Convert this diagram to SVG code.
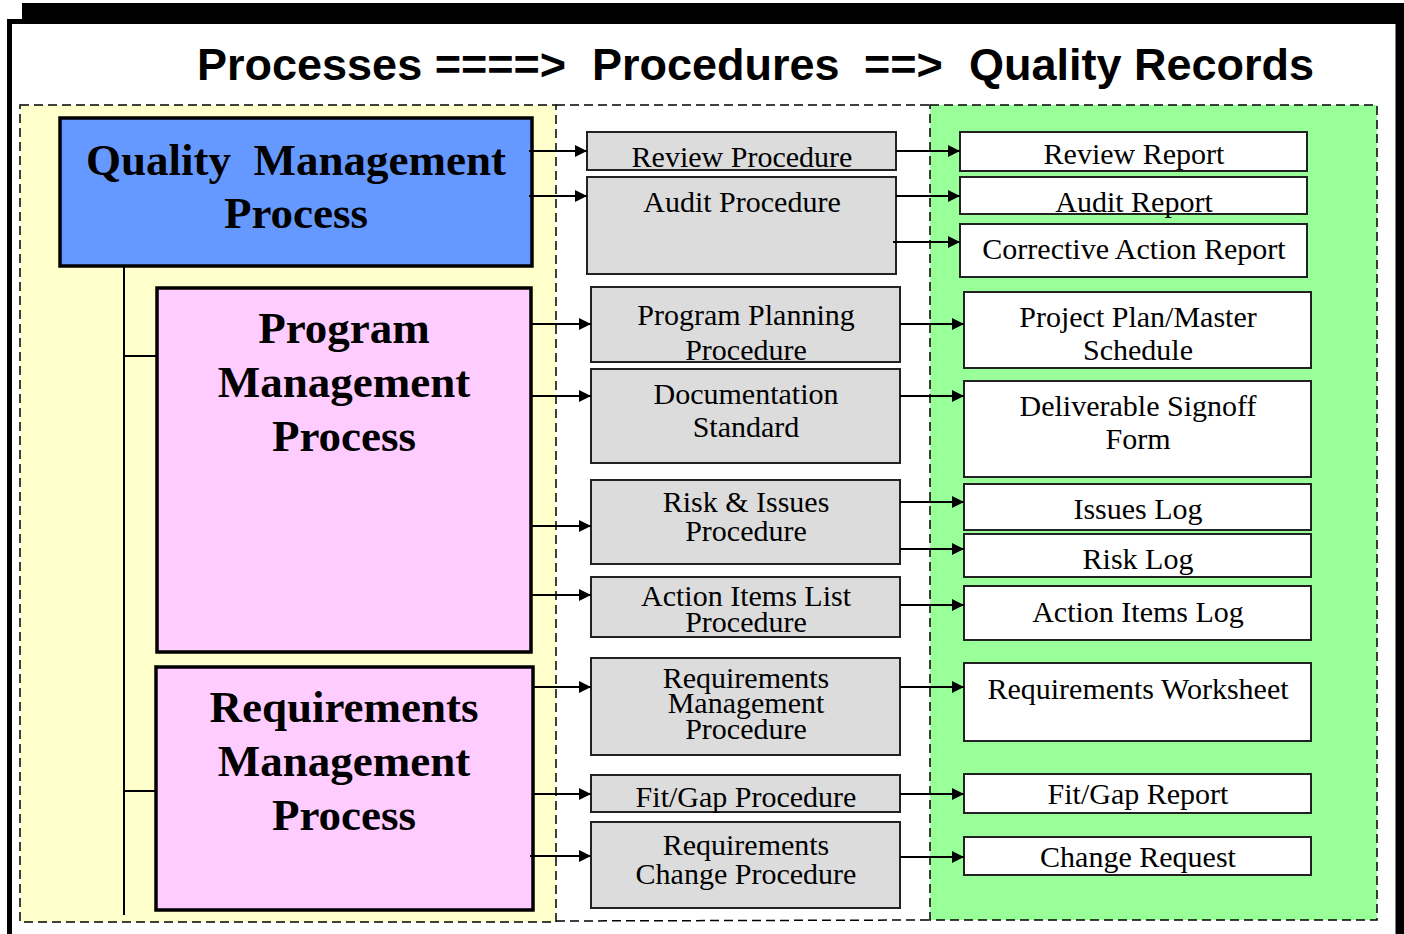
<svg xmlns="http://www.w3.org/2000/svg" width="1404" height="934" viewBox="0 0 1404 934">
  <defs>
    <marker id="arrow" markerUnits="userSpaceOnUse" markerWidth="13" markerHeight="12" refX="12" refY="6" orient="auto">
      <path d="M0,0 L12,6 L0,12 z" fill="#000"/>
    </marker>
    <style>
      .title { font-family: "Liberation Sans", Arial, sans-serif; font-weight: bold; font-size: 45px; fill: #000; }
      .proc { font-family: "Liberation Serif", "Times New Roman", serif; font-weight: bold; font-size: 45px; fill: #000; text-anchor: middle; white-space: pre; }
      .lbl { font-family: "Liberation Serif", "Times New Roman", serif; font-size: 30px; fill: #000; text-anchor: middle; }
      .pbox { stroke: #000; stroke-width: 3.5; }
      .gbox { fill: #dcdcdc; stroke: #222; stroke-width: 2; }
      .wbox { fill: #fff; stroke: #222; stroke-width: 2; }
      .dash { fill: none; stroke: #000; stroke-width: 1.5; stroke-dasharray: 9 5; }
      .conn line { stroke: #000; stroke-width: 2; marker-end: url(#arrow); }
      .tree line { stroke: #000; stroke-width: 2; }
    </style>
  </defs>

  <!-- page frame with offset shadow -->
  <rect x="0" y="0" width="1404" height="934" fill="#fff"/>
  <rect x="22" y="3" width="1400" height="960" fill="#000"/>
  <rect x="9.5" y="21.5" width="1388.5" height="960" fill="#fff" stroke="#000" stroke-width="5"/>

  <!-- heading -->
  <g id="heading">
    <text class="title" x="197" y="80">Processes ====&gt;</text>
    <text class="title" x="592" y="80">Procedures</text>
    <text class="title" x="864" y="80">==&gt;</text>
    <text class="title" x="969" y="80">Quality Records</text>
  </g>

  <!-- column backgrounds -->
  <g id="columns">
    <rect x="20" y="105" width="536" height="817" fill="#ffffcc"/>
    <rect x="930" y="105" width="447" height="815" fill="#99ff99"/>
    <line class="dash" x1="556" y1="105" x2="930" y2="105"/>
    <line class="dash" x1="556" y1="921" x2="930" y2="920"/>
    <rect class="dash" x="20" y="105" width="536" height="817"/>
    <rect class="dash" x="930" y="105" width="447" height="815"/>
  </g>

  <!-- hierarchy lines -->
  <g class="tree" id="tree">
    <line x1="124" y1="266" x2="124" y2="915"/>
    <line x1="124" y1="356" x2="157" y2="356"/>
    <line x1="124" y1="791" x2="156" y2="791"/>
  </g>

  <!-- processes -->
  <g id="qm-process">
    <rect class="pbox" x="60" y="118" width="472" height="148" fill="#6699ff"/>
    <text class="proc" x="296" y="175" xml:space="preserve">Quality  Management</text>
    <text class="proc" x="296" y="228">Process</text>
  </g>
  <g id="pm-process">
    <rect class="pbox" x="157" y="288" width="374" height="364" fill="#ffccff"/>
    <text class="proc" x="344" y="343">Program</text>
    <text class="proc" x="344" y="397">Management</text>
    <text class="proc" x="344" y="451">Process</text>
  </g>
  <g id="rm-process">
    <rect class="pbox" x="156" y="667" width="377" height="243" fill="#ffccff"/>
    <text class="proc" x="344" y="722">Requirements</text>
    <text class="proc" x="344" y="776">Management</text>
    <text class="proc" x="344" y="830">Process</text>
  </g>

  <!-- procedures -->
  <g id="review-procedure">
    <rect class="gbox" x="587" y="132" width="309" height="38"/>
    <text class="lbl" x="742" y="167">Review Procedure</text>
  </g>
  <g id="audit-procedure">
    <rect class="gbox" x="587" y="177" width="309" height="97"/>
    <text class="lbl" x="742" y="212">Audit Procedure</text>
  </g>
  <g id="program-planning-procedure">
    <rect class="gbox" x="591" y="287" width="309" height="75"/>
    <text class="lbl" x="746" y="325">Program Planning</text>
    <text class="lbl" x="746" y="360">Procedure</text>
  </g>
  <g id="documentation-standard">
    <rect class="gbox" x="591" y="369" width="309" height="94"/>
    <text class="lbl" x="746" y="404">Documentation</text>
    <text class="lbl" x="746" y="437">Standard</text>
  </g>
  <g id="risk-issues-procedure">
    <rect class="gbox" x="591" y="480" width="309" height="84"/>
    <text class="lbl" x="746" y="512">Risk &amp; Issues</text>
    <text class="lbl" x="746" y="541">Procedure</text>
  </g>
  <g id="action-items-procedure">
    <rect class="gbox" x="591" y="577" width="309" height="60"/>
    <text class="lbl" x="746" y="606">Action Items List</text>
    <text class="lbl" x="746" y="632">Procedure</text>
  </g>
  <g id="req-mgmt-procedure">
    <rect class="gbox" x="591" y="658" width="309" height="97"/>
    <text class="lbl" x="746" y="688">Requirements</text>
    <text class="lbl" x="746" y="713">Management</text>
    <text class="lbl" x="746" y="739">Procedure</text>
  </g>
  <g id="fit-gap-procedure">
    <rect class="gbox" x="591" y="775" width="309" height="37"/>
    <text class="lbl" x="746" y="807">Fit/Gap Procedure</text>
  </g>
  <g id="req-change-procedure">
    <rect class="gbox" x="591" y="822" width="309" height="86"/>
    <text class="lbl" x="746" y="855">Requirements</text>
    <text class="lbl" x="746" y="884">Change Procedure</text>
  </g>

  <!-- quality records -->
  <g id="review-report">
    <rect class="wbox" x="960" y="132" width="347" height="39"/>
    <text class="lbl" x="1134" y="164">Review Report</text>
  </g>
  <g id="audit-report">
    <rect class="wbox" x="960" y="177" width="347" height="37"/>
    <text class="lbl" x="1134" y="212">Audit Report</text>
  </g>
  <g id="corrective-action-report">
    <rect class="wbox" x="960" y="224" width="347" height="53"/>
    <text class="lbl" x="1134" y="259">Corrective Action Report</text>
  </g>
  <g id="project-plan">
    <rect class="wbox" x="964" y="292" width="347" height="76"/>
    <text class="lbl" x="1138" y="327">Project Plan/Master</text>
    <text class="lbl" x="1138" y="360">Schedule</text>
  </g>
  <g id="signoff-form">
    <rect class="wbox" x="964" y="381" width="347" height="96"/>
    <text class="lbl" x="1138" y="416">Deliverable Signoff</text>
    <text class="lbl" x="1138" y="449">Form</text>
  </g>
  <g id="issues-log">
    <rect class="wbox" x="964" y="484" width="347" height="46"/>
    <text class="lbl" x="1138" y="519">Issues Log</text>
  </g>
  <g id="risk-log">
    <rect class="wbox" x="964" y="534" width="347" height="43"/>
    <text class="lbl" x="1138" y="569">Risk Log</text>
  </g>
  <g id="action-items-log">
    <rect class="wbox" x="964" y="586" width="347" height="54"/>
    <text class="lbl" x="1138" y="622">Action Items Log</text>
  </g>
  <g id="requirements-worksheet">
    <rect class="wbox" x="964" y="663" width="347" height="78"/>
    <text class="lbl" x="1138" y="699">Requirements Worksheet</text>
  </g>
  <g id="fit-gap-report">
    <rect class="wbox" x="964" y="774" width="347" height="39"/>
    <text class="lbl" x="1138" y="804">Fit/Gap Report</text>
  </g>
  <g id="change-request">
    <rect class="wbox" x="964" y="837" width="347" height="38"/>
    <text class="lbl" x="1138" y="867">Change Request</text>
  </g>

  <!-- connectors -->
  <g class="conn" id="connectors">
    <line x1="529" y1="151" x2="587" y2="151"/>
    <line x1="529" y1="196" x2="587" y2="196"/>
    <line x1="531" y1="324" x2="591" y2="324"/>
    <line x1="531" y1="396" x2="591" y2="396"/>
    <line x1="531" y1="526" x2="591" y2="526"/>
    <line x1="531" y1="595" x2="591" y2="595"/>
    <line x1="533" y1="687" x2="591" y2="687"/>
    <line x1="533" y1="794" x2="591" y2="794"/>
    <line x1="530" y1="856" x2="591" y2="856"/>

    <line x1="896" y1="151" x2="960" y2="151"/>
    <line x1="896" y1="196" x2="960" y2="196"/>
    <line x1="893" y1="242" x2="960" y2="242"/>
    <line x1="900" y1="324" x2="964" y2="324"/>
    <line x1="900" y1="396" x2="964" y2="396"/>
    <line x1="900" y1="502" x2="964" y2="502"/>
    <line x1="900" y1="549" x2="964" y2="549"/>
    <line x1="900" y1="605" x2="964" y2="605"/>
    <line x1="900" y1="687" x2="964" y2="687"/>
    <line x1="900" y1="794" x2="964" y2="794"/>
    <line x1="900" y1="857" x2="964" y2="857"/>
  </g>
</svg>
